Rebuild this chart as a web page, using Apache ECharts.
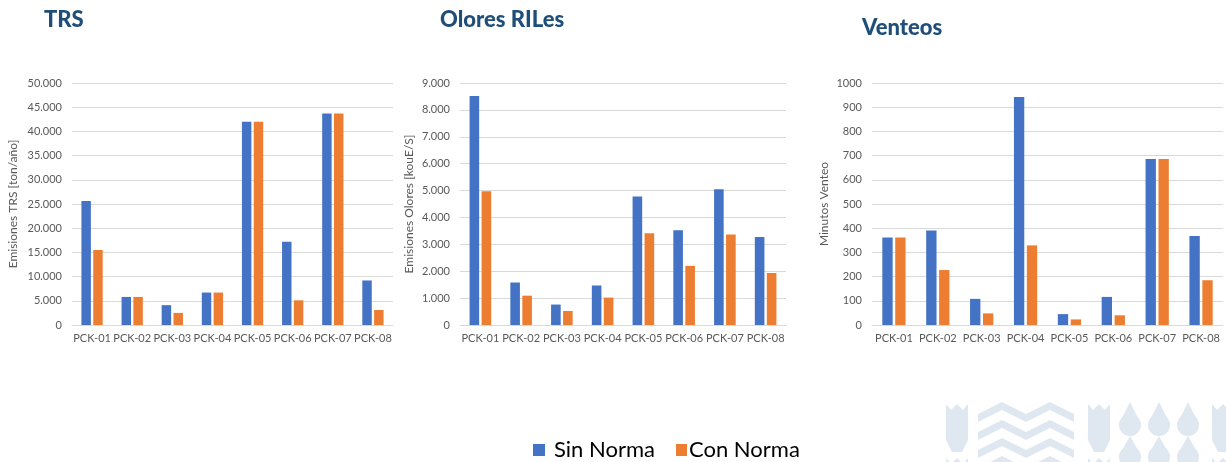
<!DOCTYPE html>
<html>
<head>
<meta charset="utf-8">
<script src="https://cdn.jsdelivr.net/npm/echarts@6/dist/echarts.min.js"></script>
<style>
html,body{margin:0;padding:0;background:#fff;}
#c{width:1226px;height:462px;}
</style>
</head>
<body>
<div id="c"></div>
<script>
const categories = ['PCK-01','PCK-02','PCK-03','PCK-04','PCK-05','PCK-06','PCK-07','PCK-08'];
const seriesNames = ['Sin Norma','Con Norma'];
const titles = ['TRS','Olores RILes','Venteos'];
const axisNames = ['Emisiones TRS [ton/año]','Emisiones Olores [kouE/S]','Minutos Venteo'];

const trsSin = [25600, 5800, 4100, 6700, 42000, 17200, 43700, 9200];
const trsCon = [15500, 5800, 2500, 6700, 42000, 5100, 43700, 3100];

const oloresSin = [8520, 1580, 760, 1470, 4780, 3520, 5050, 3270];
const oloresCon = [4970, 1090, 520, 1020, 3410, 2200, 3370, 1935];

const venteosSin = [362, 391, 108, 942, 45, 116, 686, 368];
const venteosCon = [362, 227, 48, 329, 23, 40, 686, 185];

const yMax = [50000, 9000, 1000];
const yStep = [5000, 1000, 100];

const BLUE = '#4472C4', ORANGE = '#ED7D31';
const FONT = 'Lato, "Open Sans", sans-serif';

function dotFmt(v){ return String(v).replace(/\B(?=(\d{3})+(?!\d))/g, '.'); }

const grids = [
  {left:72, width:321, top:83, height:242},
  {left:460, width:326, top:83, height:242},
  {left:872, width:351, top:83, height:242}
];
const nameGaps = [53, 45, 42];
const fmts = [dotFmt, dotFmt, v => String(v)];
const data = [[trsSin, trsCon],[oloresSin, oloresCon],[venteosSin, venteosCon]];

const chart = echarts.init(document.getElementById('c'), null, {renderer:'canvas'});
const legendStyle = {fontFamily:FONT, fontSize:22, color:'#000'};
const option = {
  backgroundColor:'#fff',
  animation:false,
  title: [
    {text:titles[0], left:39, top:4},
    {text:titles[1], left:435, top:4},
    {text:titles[2], left:857, top:12}
  ].map(t => Object.assign(t, {textStyle:{fontFamily:FONT, fontWeight:900, fontSize:22, color:'#1F4E79'}})),
  legend: [
    {data:[seriesNames[0]], left:528, top:434, itemWidth:12, itemHeight:12, icon:'rect', padding:5,
     textStyle:Object.assign({padding:[0,0,0,4]}, legendStyle)},
    {data:[seriesNames[1]], left:671, top:434, itemWidth:11, itemHeight:12, icon:'rect', padding:5,
     textStyle:Object.assign({padding:[0,0,0,-3]}, legendStyle)}
  ],
  grid: grids,
  xAxis: grids.map((g,i) => ({
    type:'category', gridIndex:i, data:categories,
    axisLine:{lineStyle:{color:'#d9d9d9'}},
    axisTick:{show:false},
    axisLabel:{interval:0, color:'#595959', fontFamily:FONT, fontSize:11, margin:8}
  })),
  yAxis: grids.map((g,i) => ({
    type:'value', gridIndex:i, min:0, max:yMax[i], interval:yStep[i],
    name: axisNames[i], nameLocation:'middle', nameGap:nameGaps[i], nameRotate:90,
    nameTextStyle:{color:'#595959', fontFamily:FONT, fontSize:12},
    axisLine:{show:false}, axisTick:{show:false},
    splitLine:{lineStyle:{color:'#d9d9d9'}},
    axisLabel:{color:'#595959', fontFamily:FONT, fontSize:11, margin:10, formatter:fmts[i]}
  })),
  series: []
};
for (let i=0;i<3;i++){
  for (let s=0;s<2;s++){
    option.series.push({
      type:'bar', name:seriesNames[s], xAxisIndex:i, yAxisIndex:i,
      data:data[i][s],
      itemStyle:{color: s===0?BLUE:ORANGE},
      barGap:'25%', barCategoryGap:'47%'
    });
  }
}
// decorative watermark logo (light shapes)
const LC = '#dfe7f1';
const logo = [];
function tulip(x){
  logo.push({type:'polygon', shape:{points:[[x,404],[x+5,410],[x+11,404],[x+17,410],[x+22,404],[x+22,440],[x+16,452],[x+6,452],[x,440]]}, style:{fill:LC}});
  logo.push({type:'polygon', shape:{points:[[x,458],[x+5,464],[x+11,458],[x+17,464],[x+22,458],[x+22,470],[x,470]]}, style:{fill:LC}});
}
function zig(x, y){
  const pts=[]; const w=96, n=4, h=12;
  for(let k=0;k<=n;k++){ pts.push([x+k*w/n, y + (k%2===0? h:0)]); }
  for(let k=n;k>=0;k--){ pts.push([x+k*w/n, y + (k%2===0? h:0)+8]); }
  logo.push({type:'polygon', shape:{points:pts}, style:{fill:LC}});
}
function drop(x){
  logo.push({type:'polygon', shape:{points:[[x+12,402],[x+3,420],[x+21,420]]}, style:{fill:LC}});
  logo.push({type:'circle', shape:{cx:x+12, cy:425, r:11}, style:{fill:LC}});
  logo.push({type:'polygon', shape:{points:[[x+12,436],[x+3,452],[x+21,452]]}, style:{fill:LC}});
  logo.push({type:'circle', shape:{cx:x+12, cy:457, r:11}, style:{fill:LC}});
}
tulip(946); zig(978, 402); zig(978, 420); zig(978, 438); zig(978, 456);
tulip(1088); drop(1118); drop(1147); drop(1176); tulip(1212);
option.graphic = logo.map(g => Object.assign(g, {silent:true, z:-1}));
chart.setOption(option);
</script>
</body>
</html>
